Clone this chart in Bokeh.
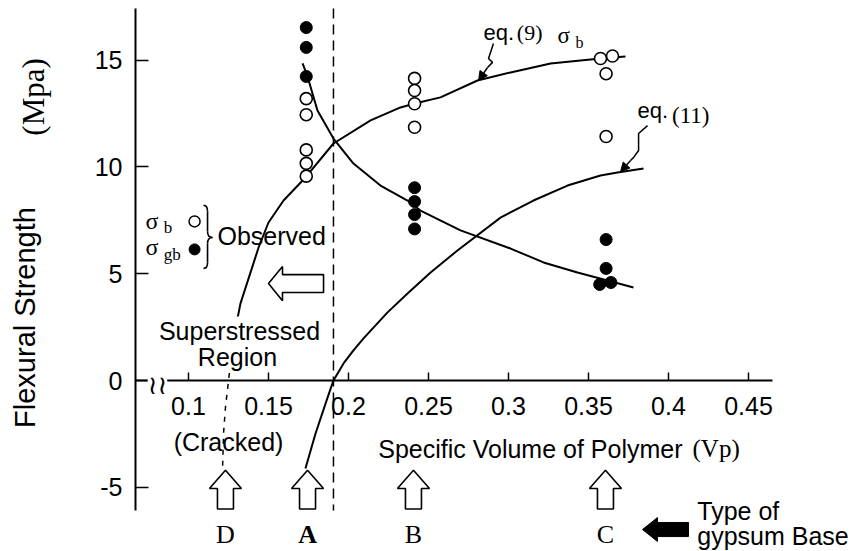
import math
from bokeh.plotting import figure
from bokeh.models import FixedTicker, Label, Arrow, NormalHead
from bokeh.embed import file_html
from bokeh.resources import INLINE

SANS = "Liberation Sans"
SERIF = "Liberation Serif"

# ---------------- data ----------------
x_ticks = [0.1, 0.15, 0.2, 0.25, 0.3, 0.35, 0.4, 0.45]
x_tick_labels = ["0.1", "0.15", "0.2", "0.25", "0.3", "0.35", "0.4", "0.45"]
y_ticks = [-5, 0, 5, 10, 15]
y_tick_labels = ["-5", "0", "5", "10", "15"]

# observed sigma_b (open circles)
sb_obs_vp = [0.1736, 0.1736, 0.1736, 0.1736, 0.1736,
             0.2413, 0.2413, 0.2413, 0.2413,
             0.3575, 0.3650, 0.3610, 0.3610]
sb_obs = [13.2, 12.45, 10.8, 10.17, 9.57,
          14.15, 13.58, 12.96, 11.86,
          15.08, 15.2, 14.37, 11.43]

# observed sigma_gb (filled circles)
sgb_obs_vp = [0.1736, 0.1736, 0.1736,
              0.2413, 0.2413, 0.2413, 0.2413,
              0.3610, 0.3610, 0.3570, 0.3640]
sgb_obs = [16.53, 15.6, 14.24,
           9.03, 8.38, 7.77, 7.1,
           6.6, 5.25, 4.5, 4.59]

# eq.(9) sigma_b curve (solid part)
eq9_vp = [0.1306, 0.1325, 0.1438, 0.1500, 0.1594, 0.1731, 0.1906, 0.2138,
          0.2325, 0.2413, 0.2575, 0.2806, 0.3013, 0.3263, 0.3575, 0.3731]
eq9_sb = [2.90, 3.61, 6.23, 7.40, 8.43, 9.51, 11.10, 12.18,
          12.79, 12.97, 13.26, 14.05, 14.43, 14.85, 15.08, 15.18]
# eq.(9) extension into the cracked region (dashed)
eq9_ext_vp = [0.1306, 0.1256, 0.1231, 0.1219, 0.1213]
eq9_ext_sb = [2.90, 0.37, -1.26, -2.48, -4.07]

# sigma_gb curve
gb_curve_vp = [0.1713, 0.1744, 0.1806, 0.1906, 0.2031, 0.2200, 0.2369, 0.2450,
               0.2700, 0.3013, 0.3219, 0.3431, 0.3619, 0.3781]
gb_curve = [14.85, 14.24, 12.65, 11.33, 10.16, 9.13, 8.43, 7.96,
            7.03, 6.18, 5.53, 5.06, 4.68, 4.36]

# eq.(11) curve
eq11_vp = [0.1731, 0.1794, 0.1869, 0.1906, 0.1969, 0.2031, 0.2094, 0.2244, 0.2369,
           0.2513, 0.2681, 0.2950, 0.3156, 0.3369, 0.3575, 0.3681, 0.3844]
eq11 = [-4.12, -2.48, -0.80, 0.0, 0.80, 1.41, 1.97, 3.19, 4.07,
        5.06, 6.09, 7.63, 8.43, 9.13, 9.60, 9.74, 9.93]

base_types = ["D", "A", "B", "C"]
base_vp = [0.1231, 0.1744, 0.2406, 0.3606]
vp_critical = 0.1906

# ---------------- figure ----------------
X0 = 0.066875
Y_TOP, Y_BOT = 17.42, -6.09

p = figure(width=857, height=551, x_range=(-0.0175, 0.518125), y_range=(-8.009, 17.798),
           output_backend="svg", toolbar_location=None, min_border=0)
p.min_border_left = p.min_border_right = p.min_border_top = p.min_border_bottom = 0
p.outline_line_color = None
p.grid.visible = False
p.background_fill_color = "white"
p.border_fill_color = "white"

for ax in (p.xaxis[0], p.yaxis[0]):
    ax.axis_line_color = "black"
    ax.axis_line_width = 2
    ax.major_tick_line_color = "black"
    ax.major_tick_line_width = 1.5
    ax.major_tick_out = 0
    ax.minor_tick_line_color = None
    ax.major_label_text_font = SANS
    ax.major_label_text_font_size = "25px"
    ax.major_label_text_color = "black"

xa = p.xaxis[0]
xa.fixed_location = 0
xa.bounds = (X0, 0.465)
xa.ticker = FixedTicker(ticks=x_ticks)
xa.major_label_overrides = dict(zip(x_ticks, x_tick_labels))
xa.major_tick_in = 8
xa.major_label_standoff = 16

ya = p.yaxis[0]
ya.fixed_location = X0
ya.bounds = (Y_BOT, Y_TOP)
ya.ticker = FixedTicker(ticks=y_ticks)
ya.major_label_overrides = dict(zip(y_ticks, y_tick_labels))
ya.major_tick_in = 13
ya.major_label_standoff = 13

# critical Vp dashed line
p.segment(x0=[vp_critical], y0=[Y_TOP], x1=[vp_critical], y1=[Y_BOT],
          line_color="black", line_width=1.5, line_dash="10 6")

# curves
p.line(eq9_vp, eq9_sb, line_color="black", line_width=2)
p.line(eq9_ext_vp, eq9_ext_sb, line_color="black", line_width=1.5, line_dash="5 6")
p.line(gb_curve_vp, gb_curve, line_color="black", line_width=2)
p.line(eq11_vp, eq11, line_color="black", line_width=2)

# observed points
p.scatter(sb_obs_vp, sb_obs, marker="circle", size=12, fill_color="white",
          line_color="black", line_width=1.6)
p.scatter(sgb_obs_vp, sgb_obs, marker="circle", size=12, fill_color="black",
          line_color="black")

# legend markers
p.scatter([0.1038], [7.45], marker="circle", size=11, fill_color="white",
          line_color="black", line_width=1.5)
p.scatter([0.1038], [6.14], marker="circle", size=11, fill_color="black",
          line_color="black")

# legend brace "}"
bx0, bx1, bx2 = 0.1094, 0.1119, 0.1150
by_top, by_t2, by_m1, by_mid, by_m2, by_b2, by_bot = 8.20, 7.92, 6.98, 6.70, 6.42, 5.53, 5.25
p.quadratic(x0=[bx0, bx1, bx2, bx1], y0=[by_top, by_m1, by_mid, by_b2],
            x1=[bx1, bx2, bx1, bx0], y1=[by_t2, by_mid, by_m2, by_bot],
            cx=[bx1, bx1, bx1, bx1], cy=[by_top, by_mid, by_mid, by_bot],
            line_color="black", line_width=1.6)
p.segment(x0=[bx1, bx1], y0=[by_t2, by_m2], x1=[bx1, bx1], y1=[by_m1, by_b2],
          line_color="black", line_width=1.6)


def label(x, y, text, size="25px", font=SANS, align="left", baseline="middle",
          angle=0.0, bg=None, style="normal"):
    p.add_layout(Label(x=x, y=y, text=text, text_font=font, text_font_size=size,
                       text_align=align, text_baseline=baseline, angle=angle,
                       text_color="black", background_fill_color=bg,
                       text_font_style=style))


# hollow up arrows for gypsum base types
def up_arrow(xc):
    hw_h, hw_b = 0.010, 0.005
    y_tip, y_head, y_bot = -4.2, -5.06, -6.02
    xs = [xc, xc + hw_h, xc + hw_b, xc + hw_b, xc - hw_b, xc - hw_b, xc - hw_h]
    ys = [y_tip, y_head, y_head, y_bot, y_bot, y_head, y_head]
    return xs, ys


axs, ays = zip(*[up_arrow(v) for v in base_vp])
p.patches(list(axs), list(ays), fill_color="white", line_color="black", line_width=1.6)

# hollow left arrow (superstressed region)
p.patch([0.15, 0.15875, 0.15875, 0.1844, 0.1844, 0.15875, 0.15875],
        [4.54, 5.34, 4.96, 4.96, 4.12, 4.12, 3.74],
        fill_color="white", line_color="black", line_width=1.6)

# black arrow -> type of gypsum base
p.patch([0.38375, 0.3931, 0.3931, 0.4125, 0.4125, 0.3931, 0.3931],
        [-6.98, -6.42, -6.65, -6.65, -7.31, -7.31, -7.54],
        fill_color="black", line_color="black", line_width=1)

# pointers for equation labels
p.line([0.2906, 0.2875, 0.2900, 0.2869], [15.78, 15.08, 14.90, 14.66],
       line_color="black", line_width=1.5)
p.add_layout(Arrow(end=NormalHead(size=9, fill_color="black", line_color="black"),
                   x_start=0.2869, y_start=14.66, x_end=0.2813, y_end=14.05,
                   line_color="black", line_width=1.5))
p.line([0.3869, 0.3813, 0.3813, 0.3781, 0.3763], [11.94, 11.57, 10.77, 10.44, 10.30],
       line_color="black", line_width=1.5)
p.add_layout(Arrow(end=NormalHead(size=9, fill_color="black", line_color="black"),
                   x_start=0.3763, y_start=10.30, x_end=0.3700, y_end=9.78,
                   line_color="black", line_width=1.5))

# ---------------- texts ----------------
label(-0.0019, 2.95, "Flexural Strength", size="29px", align="center", angle=math.pi / 2)
label(0.0031, 13.28, "(Mpa)", size="31px", font=SERIF, align="center", angle=math.pi / 2)

label(0.0731, 7.49, "σ", size="24px", font=SERIF)
label(0.0845, 7.15, "b", size="17px", font=SERIF)
label(0.0731, 6.23, "σ", size="24px", font=SERIF)
label(0.0845, 5.90, "gb", size="17px", font=SERIF)
label(0.1181, 6.79, "Observed")

label(0.1319, 2.34, "Superstressed", align="center", bg="white")
label(0.1306, 1.08, "Region", align="center", bg="white")
label(0.1250, -2.90, "(Cracked)", align="center")

label(0.0806, -0.20, "≀≀", size="26px", font="DejaVu Sans", align="center", bg="white")

label(0.40875, -3.19, "Specific Volume of Polymer", align="right")
label(0.4150, -3.19, "(Vp)", font=SERIF)

for t, v in zip(base_types, base_vp):
    label(v, -7.2, t, size="26px", font=SERIF, align="center",
          style="bold" if t == "A" else "normal")

label(0.4180, -6.09, "Type of")
label(0.4180, -7.26, "gypsum Base")

label(0.2844, 16.30, "eq.", size="22px")
label(0.3052, 16.30, "(9)", size="22px", font=SERIF)
label(0.3306, 16.16, "σ", size="23px", font=SERIF)
label(0.3419, 15.83, "b", size="16px", font=SERIF)

label(0.3806, 12.65, "eq.", size="22px")
label(0.4022, 12.41, "(11)", size="23px", font=SERIF)

open("out.html", "w").write(file_html(p, INLINE))
